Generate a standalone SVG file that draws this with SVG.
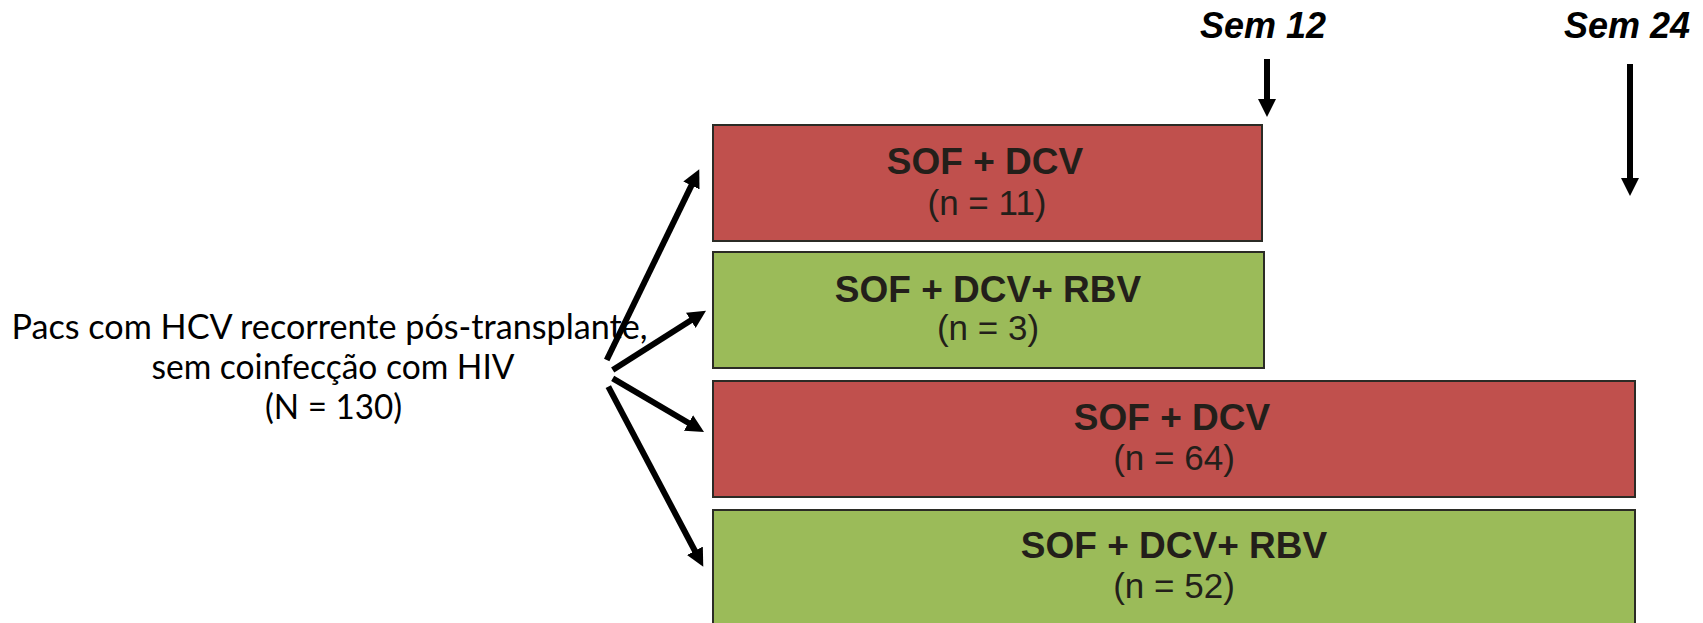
<svg xmlns="http://www.w3.org/2000/svg" width="1703" height="623" viewBox="0 0 1703 623">
  <style>
    .box { stroke: #2b2b25; stroke-width: 2; }
    .red { fill: #C0504D; }
    .green { fill: #9BBB59; }
    .title { font-family: "Liberation Sans", Arial, sans-serif; font-weight: bold; font-size: 37px; fill: #231f1a; text-anchor: middle; }
    .count { font-family: "Liberation Sans", Arial, sans-serif; font-size: 35px; fill: #231f1a; text-anchor: middle; }
    .week { font-family: "Liberation Sans", Arial, sans-serif; font-weight: bold; font-style: italic; font-size: 36px; fill: #000; text-anchor: middle; }
    .source { font-family: Lato, "Open Sans", sans-serif; font-size: 34px; fill: #000; }
    .arrow { stroke: #000; stroke-width: 6; fill: none; marker-end: url(#head); }
  </style>
  <defs>
    <marker id="head" viewBox="0 0 18 18" markerWidth="18" markerHeight="18" refX="11" refY="9" orient="auto" markerUnits="userSpaceOnUse">
      <path d="M0,0 L18,9 L0,18 Z" fill="#000"/>
    </marker>
  </defs>

  <!-- timeline markers -->
  <g id="week12">
    <text class="week" x="1263" y="38">Sem 12</text>
  </g>
  <g id="week24">
    <text class="week" x="1627" y="38">Sem 24</text>
  </g>

  <!-- patient population -->
  <g id="population">
    <text class="source" x="11.5" y="339" textLength="636" lengthAdjust="spacingAndGlyphs">Pacs com HCV recorrente pós-transplante,</text>
    <text class="source" x="151.5" y="379" textLength="363" lengthAdjust="spacingAndGlyphs">sem coinfecção com HIV</text>
    <text class="source" x="265" y="419" textLength="137" lengthAdjust="spacingAndGlyphs">(N = 130)</text>
  </g>

  <!-- treatment arms -->
  <g id="arm1">
    <rect class="box red" x="713" y="125" width="549" height="116"/>
    <text class="title" x="985" y="174">SOF + DCV</text>
    <text class="count" x="987" y="215">(n = 11)</text>
  </g>
  <g id="arm2">
    <rect class="box green" x="713" y="252" width="551" height="116"/>
    <text class="title" x="988" y="302">SOF + DCV+ RBV</text>
    <text class="count" x="988" y="340">(n = 3)</text>
  </g>
  <g id="arm3">
    <rect class="box red" x="713" y="381" width="922" height="116"/>
    <text class="title" x="1172" y="430">SOF + DCV</text>
    <text class="count" x="1174" y="470">(n = 64)</text>
  </g>
  <g id="arm4">
    <rect class="box green" x="713" y="510" width="922" height="130"/>
    <text class="title" x="1174" y="558">SOF + DCV+ RBV</text>
    <text class="count" x="1174" y="598">(n = 52)</text>
  </g>

  <!-- connectors -->
  <g id="connectors">
    <line class="arrow" x1="606.7" y1="360" x2="696.2" y2="175.6"/>
    <line class="arrow" x1="612.7" y1="370" x2="700.1" y2="314.5"/>
    <line class="arrow" x1="612.7" y1="378.3" x2="698" y2="428.5"/>
    <line class="arrow" x1="608.3" y1="386.7" x2="700" y2="560.5"/>
    <line class="arrow" x1="1267" y1="59" x2="1267" y2="110"/>
    <line class="arrow" x1="1630" y1="64" x2="1630" y2="189"/>
  </g>
</svg>
